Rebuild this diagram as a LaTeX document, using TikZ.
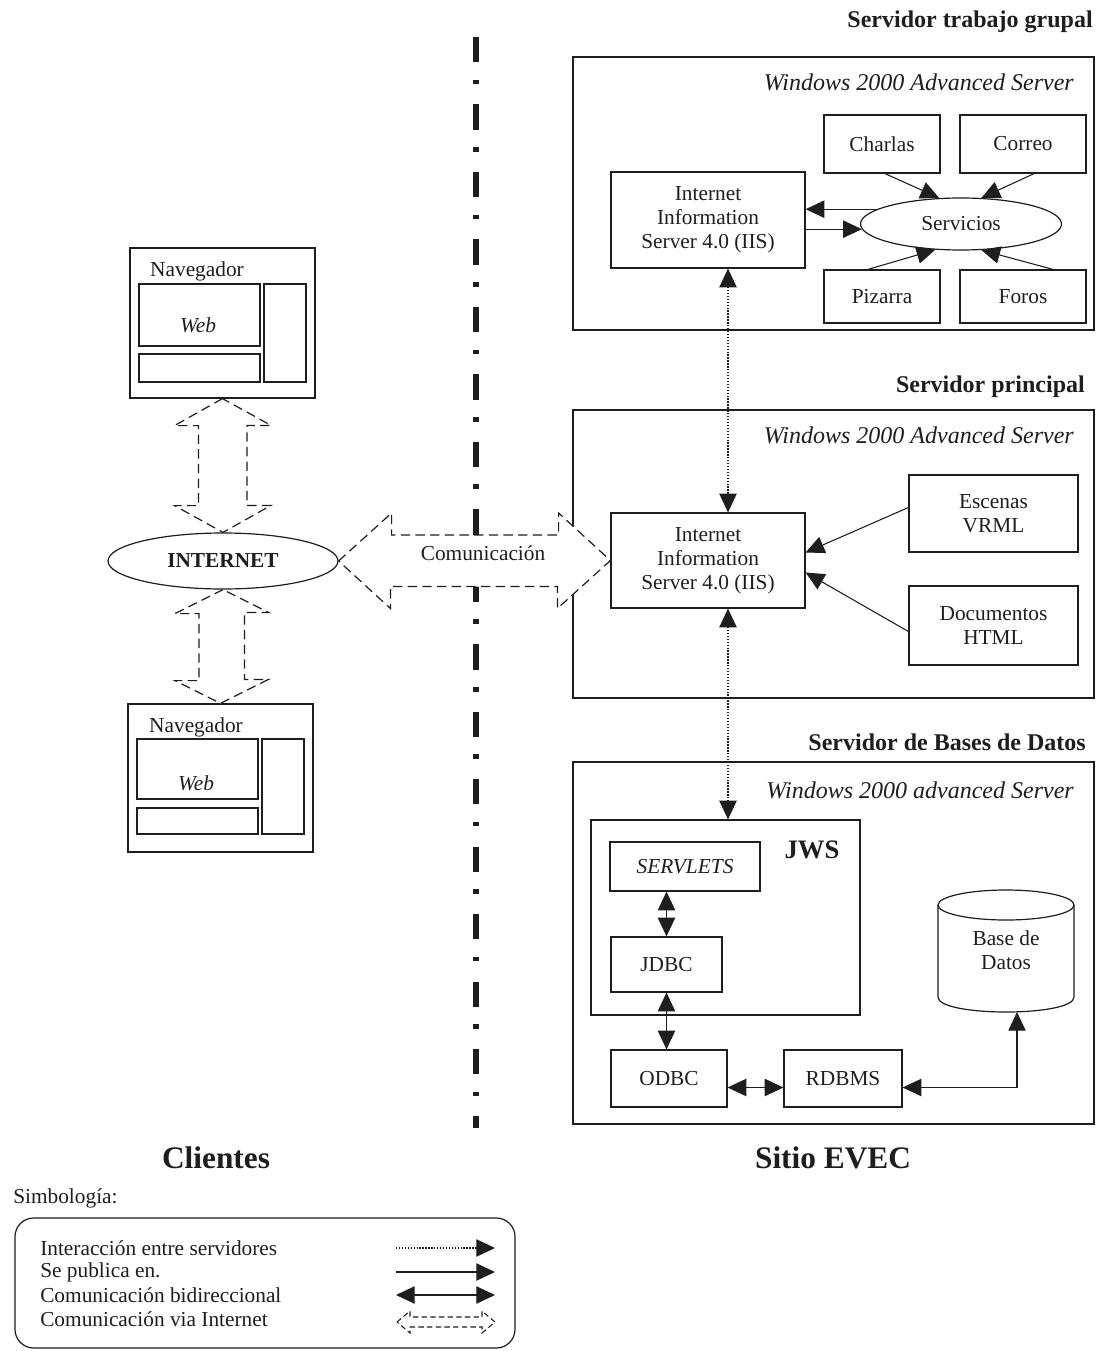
\documentclass[tikz,border=0pt]{standalone}
\usepackage{fontspec}
\setmainfont{Liberation Serif}
\usetikzlibrary{arrows.meta,calc,shapes.geometric}
\definecolor{ink}{HTML}{1E1E1E}
\newcommand{\bodyfnt}{\fontsize{16pt}{18pt}\selectfont}
\newcommand{\mybox}[7][]{\node[boxst,minimum width={(#5-#3)*0.75pt},minimum height={(#6-#4)*0.75pt},#1] (#2) at ({(#3+#5)/2},{(#4+#6)/2}) {#7};}
\begin{document}
\begin{tikzpicture}[x=0.75pt,y=-0.75pt,
  >={Triangle[length=14pt,width=13pt]},
  boxst/.style={draw=ink,line width=0.9pt,fill=white,inner sep=0pt,align=center,font=\bodyfnt,text=ink},
  srv/.style={fill=none,line width=1.1pt},
  txt/.style={font=\bodyfnt,text=ink,inner sep=0pt,align=center},
  ttl/.style={font=\fontsize{18pt}{21pt}\selectfont\bfseries,text=ink,inner sep=0pt},
  winl/.style={font=\fontsize{18pt}{21pt}\selectfont\itshape,text=ink,inner sep=0pt},
  bigt/.style={font=\fontsize{23.5pt}{27pt}\selectfont\bfseries,text=ink,inner sep=0pt},
  arr/.style={draw=ink,line width=0.8pt,->},
  arrb/.style={draw=ink,line width=0.8pt,<->},
  dotl/.style={draw=ink,line width=0.8pt,dash pattern=on 1pt off 1.2pt},
  hol/.style={draw=ink,line width=0.9pt,dash pattern=on 7pt off 4pt,fill=white},
  divider/.style={draw=ink,line width=4pt,dash pattern=on 19pt off 13pt on 3.5pt off 15.1pt}
]
\useasboundingbox (0,0) rectangle (1097,1351);
\fill[white] (0,0) rectangle (1097,1351);

% central divider
\coordinate (dtop) at (476,37);
\coordinate (dbot) at (476,1128);
\draw[divider] (dtop) -- (dbot);

% titles
\node[ttl,anchor=east] (t1) at (1093,22) {Servidor trabajo grupal};
\node[ttl,anchor=east] (t2) at (1085,387) {Servidor principal};
\node[ttl,anchor=east] (t3) at (1086,742) {Servidor de Bases de Datos};

% server boxes
\mybox[srv]{s1}{573}{57}{1094}{330}{}
\mybox[srv]{s2}{573}{410}{1094}{698}{}
\mybox[srv]{s3}{573}{762}{1094}{1124}{}
\node[winl,anchor=east] (w1) at (1074,82) {Windows 2000 Advanced Server};
\node[winl,anchor=east] (w2) at (1074,435) {Windows 2000 Advanced Server};
\node[winl,anchor=east] (w3) at (1074,790) {Windows 2000 advanced Server};

% servidor trabajo grupal
\mybox{iist}{611}{172}{805}{268}{Internet\\Information\\Server 4.0 (IIS)}
\mybox{charlas}{824}{115}{940}{173}{Charlas}
\mybox{correo}{960}{115}{1086}{173}{Correo}
\mybox{pizarra}{824}{270}{940}{323}{Pizarra}
\mybox{foros}{960}{270}{1086}{323}{Foros}
\node[ellipse,draw=ink,line width=0.9pt,minimum width=150.75pt,minimum height=39pt,inner sep=0pt,font=\bodyfnt,text=ink] (serv) at (961,224) {Servicios};
\draw[arr] (serv.170) -- (iist.east |- serv.170);
\draw[arr] (iist.east |- serv.183) -- (serv.183);
\draw[arr] ($(charlas.south)+(3,0)$) -- (serv.130);
\draw[arr] ($(correo.south)+(11,0)$) -- (serv.52);
\draw[arr] ($(pizarra.north)+(-14,0)$) -- (serv.225);
\draw[arr] ($(foros.north)+(30,0)$) -- (serv.308);

% servidor principal
\mybox{iisp}{611}{513}{805}{608}{Internet\\Information\\Server 4.0 (IIS)}
\mybox{esc}{909}{475}{1078}{552}{Escenas\\VRML}
\mybox{doc}{909}{586}{1078}{665}{Documentos\\HTML}
\draw[arr] ($(esc.west)+(0,-6)$) -- ($(iisp.east)+(0,-8)$);
\draw[arr] ($(doc.west)+(0,6)$) -- ($(iisp.east)+(0,12)$);

% servidor de bases de datos
\mybox[fill=none]{jws}{591}{820}{860}{1015}{}
\node[font=\fontsize{20pt}{24pt}\selectfont\bfseries,text=ink,inner sep=0pt] (jwslbl) at (812,850) {JWS};
\mybox{servl}{610}{842}{760}{891}{\itshape SERVLETS}
\mybox{jdbc}{611}{937}{722}{992}{JDBC}
\mybox{odbc}{611}{1050}{727}{1107}{ODBC}
\mybox{rdbms}{784}{1050}{902}{1107}{RDBMS}
\draw[ink,line width=0.9pt,fill=white] (938,905) -- (938,997) .. controls (938,1017) and (1074,1017) .. (1074,997) -- (1074,905);
\draw[ink,line width=0.9pt] (1006,905) ellipse [x radius=68,y radius=15];
\node[txt] (bd) at (1006,950) {Base de\\Datos};
\coordinate (bdbot) at (1017,1012);
\draw[arrb] (jdbc.north |- servl.south) -- (jdbc.north);
\draw[arrb] (jdbc.south) -- (jdbc.south |- odbc.north);
\draw[arrb] ($(odbc.east)+(0,9)$) -- ($(rdbms.west)+(0,9)$);
\draw[arrb] ($(rdbms.east)+(0,9)$) -| (bdbot);

% dotted interactions between servers
\coordinate (dt) at ($(iist.south)+(20,0)$);
\coordinate (dp1) at ($(iisp.north)+(20,0)$);
\coordinate (dp2) at ($(iisp.south)+(20,0)$);
\draw[dotl,<->] (dt) -- (dp1);
\draw[dotl,<->] (dp2) -- (dp2 |- jws.north);

% clients
\mybox{nav1}{130}{248}{315}{398}{}
\node[txt] (nav1lbl) at (197,271) {Navegador};
\mybox{nav1web}{139}{284}{260}{346}{}
\node[txt,font=\bodyfnt\itshape] (nav1w) at (198,325) {Web};
\mybox{nav1bar}{139}{354}{260}{382}{}
\mybox{nav1side}{264}{284}{306}{382}{}

\mybox{nav2}{128}{704}{313}{852}{}
\node[txt] (nav2lbl) at (196,727) {Navegador};
\mybox{nav2web}{137}{739}{258}{799}{}
\node[txt,font=\bodyfnt\itshape] (nav2w) at (196,783) {Web};
\mybox{nav2bar}{137}{808}{258}{834}{}
\mybox{nav2side}{262}{739}{304}{834}{}

\node[ellipse,draw=ink,line width=0.9pt,minimum width=172.5pt,minimum height=42pt,inner sep=0pt,font=\bodyfnt\bfseries,text=ink] (inet) at (223,561) {INTERNET};

% hollow dashed arrows (internet communication)
\draw[hol] (nav1.south) -- ++(-48,27) -- ++(24,0) -- ++(0,80) -- ++(-24,0) -- (inet.north) -- ++(48,-27) -- ++(-24,0) -- ++(0,-80) -- ++(24,0) -- cycle;
\draw[hol] (inet.south) -- ++(-48,24) -- ++(24,0) -- ++(0,67) -- ++(-24,0) -- (nav2.north) -- ++(48,-24) -- ++(-24,0) -- ++(0,-67) -- ++(24,0) -- cycle;
\draw[hol] (inet.east) -- ++(53,-48) -- ++(0,22) -- ++(167,0) -- ++(0,-22) -- (iisp.west) -- ++(-53,48) -- ++(0,-22) -- ++(-167,0) -- ++(0,22) -- cycle;
\node[txt] (comlbl) at (483,553) {Comunicación};

% bottom labels
\node[bigt] (cli) at (216,1158) {Clientes};
\node[bigt] (sit) at (833,1158) {Sitio EVEC};

% legend
\node[txt,anchor=west] (simb) at (13,1198) {Simbología:};
\mybox[fill=none,rounded corners=14pt]{leg}{15}{1218}{515}{1348}{}
\node[txt,anchor=west] (lg1) at (40,1248) {Interacción entre servidores};
\node[txt,anchor=west] (lg2) at (40,1272) {Se publica en.};
\node[txt,anchor=west] (lg3) at (40,1295) {Comunicación bidireccional};
\node[txt,anchor=west] (lg4) at (40,1319) {Comunicación via Internet};
\coordinate (la1) at (396,1248); \coordinate (lb1) at (495,1248);
\coordinate (la2) at (396,1272); \coordinate (lb2) at (495,1272);
\coordinate (la3) at (396,1295); \coordinate (lb3) at (495,1295);
\coordinate (la4) at (397,1322);
\draw[dotl,->] (la1) -- (lb1);
\draw[arr] (la2) -- (lb2);
\draw[arrb] (la3) -- (lb3);
\draw[hol,dash pattern=on 4pt off 2.5pt,line width=0.8pt] (la4) -- ++(13,-11) -- ++(0,6) -- ++(72,0) -- ++(0,-6) -- ++(13,11) -- ++(-13,11) -- ++(0,-6) -- ++(-72,0) -- ++(0,6) -- cycle;
\end{tikzpicture}
\end{document}
